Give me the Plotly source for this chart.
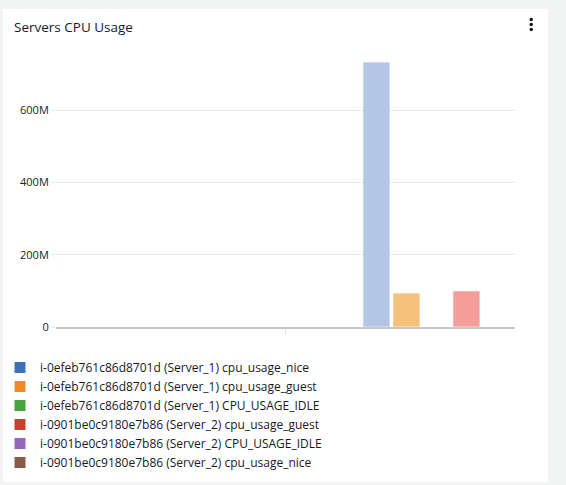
import plotly.graph_objects as go

# ---------------- data ----------------
series_names = [
    "i-0efeb761c86d8701d (Server_1) cpu_usage_nice",
    "i-0efeb761c86d8701d (Server_1) cpu_usage_guest",
    "i-0efeb761c86d8701d (Server_1) CPU_USAGE_IDLE",
    "i-0901be0c9180e7b86 (Server_2) cpu_usage_guest",
    "i-0901be0c9180e7b86 (Server_2) CPU_USAGE_IDLE",
    "i-0901be0c9180e7b86 (Server_2) cpu_usage_nice",
]
time_bucket = [1.723]          # position of the data bucket on the time axis (axis spans 0..2)
series_values = [
    [734e6],
    [94e6],
    [None],
    [100e6],
    [None],
    [None],
]
y_tick_values = [0, 200e6, 400e6, 600e6]

legend_colors = ["#3d72b6", "#f08b2c", "#48a23e", "#c8402f", "#9568be", "#8a5a4c"]
bar_colors = ["#b3c6e6", "#f5c17d", "#a6d49f", "#f39e98", "#cdb6e2", "#cbada4"]

# ---------------- geometry helpers (pixels -> paper) ----------------
W, H = 566, 485
L, R, T, B = 56, 515, 48, 327
def px(p):
    return (p - L) / (R - L)
def py(p):
    return (B - p) / (B - T)

fig = go.Figure()

for name, vals, bc in zip(series_names, series_values, bar_colors):
    fig.add_trace(go.Bar(
        x=time_bucket, y=vals, name=name, showlegend=False,
        marker=dict(color=bc, line=dict(color="rgba(255,255,255,0.6)", width=1)),
        hoverinfo="name+y",
    ))

for name, lc in zip(series_names, legend_colors):
    fig.add_trace(go.Scatter(
        x=[None], y=[None], mode="markers", name=name,
        marker=dict(symbol="square", size=11, color=lc),
    ))

shapes = [
    # white card
    dict(type="rect", xref="paper", yref="paper", layer="below",
         x0=px(3), x1=px(548), y0=py(482), y1=py(9),
         fillcolor="white", line=dict(width=0)),
]
# kebab menu dots
for cy in (19.5, 24.5, 29.5):
    shapes.append(dict(type="circle", xref="paper", yref="paper",
                       x0=px(529.5), x1=px(533), y0=py(cy + 1.7), y1=py(cy - 1.7),
                       fillcolor="#16191f", line=dict(width=0)))

fig.update_layout(
    width=W, height=H,
    margin=dict(l=L, r=W - R, t=T, b=H - B, autoexpand=False),
    paper_bgcolor="#f2f3f3",
    plot_bgcolor="rgba(0,0,0,0)",
    barmode="group",
    bargap=0.216,
    bargroupgap=0.1,
    font=dict(family="Open Sans", size=11, color="#333333"),
    title=dict(text="Servers CPU Usage", xref="container", yref="container",
               x=14 / W, y=1 - 27 / H, xanchor="left", yanchor="middle",
               font=dict(family="Open Sans", size=13.5, color="#16191f")),
    xaxis=dict(type="linear", range=[0, 2], tickvals=[1], showticklabels=False,
               ticks="outside", ticklen=6, tickcolor="#e3e3e3", tickwidth=1,
               showgrid=False, zeroline=False,
               showline=True, linecolor="#c8c8c8", linewidth=2),
    yaxis=dict(range=[0, 773e6], tickvals=y_tick_values, tickformat="~s",
               ticks="outside", ticklen=4, tickcolor="#e9e9e9",
               showgrid=True, gridcolor="#e9e9e9", gridwidth=1,
               zeroline=False, showline=False,
               tickfont=dict(family="Open Sans", size=11, color="#222222")),
    legend=dict(xref="container", yref="container", x=0, y=1 - 353 / H,
                xanchor="left", yanchor="top", tracegroupgap=0,
                font=dict(family="Open Sans", size=12, color="#16191f"),
                bgcolor="rgba(0,0,0,0)"),
    shapes=shapes,
    showlegend=True,
)

fig.write_html("out.html")
